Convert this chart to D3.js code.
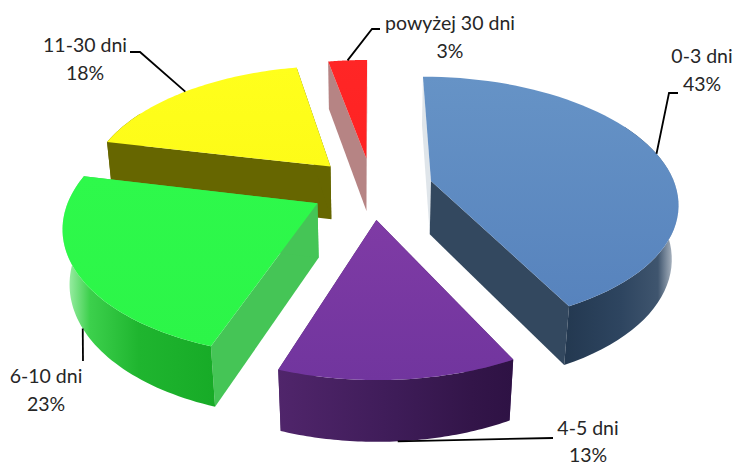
<!DOCTYPE html>
<html>
<head>
<meta charset="utf-8">
<script src="https://cdn.jsdelivr.net/npm/d3@7"></script>
<style>
    html, body { margin: 0; padding: 0; background: #fff; overflow: hidden; }
    text { font-family: Lato, "Open Sans", sans-serif; font-size: 19.5px; fill: #262626; text-anchor: middle; }
</style>
</head>
<body>
<div id="chart"></div>
<script>
// data
const categories = ['0-3 dni', '4-5 dni', '6-10 dni', '11-30 dni', 'powyżej 30 dni']
const shares = [42.5, 12.8, 23.2, 18.45, 3.05]

// styles, same order as categories
const topColours = [['#6693c6', '#5783bd'], ['#7f3ba5', '#71359e'], ['#2ef94b', '#2cf548'], ['#ffff1c', '#fdfb18'], ['#ff2626', '#ff2222']]
// rim stops: blue and green run from the front corner out to the far edge, purple left to right
const rimOffsets = [0, 0.5, 0.82, 1]
const rimColours = [
    ['#233850', '#2e4560', '#3f556e', '#d5dbe2'],
    ['#50256b', '#3e1c58', '#331549', '#2e1244'],
    ['#17ab27', '#1fb52f', '#3cd04c', '#b5f5bd'],
    ['#666600', '#666600', '#666600', '#666600'],
    ['#b98585', '#b98585', '#b98585', '#b98585']
]
const startWallColours = ['#dfe5ea', '#4a2366', '#45c556', '#666600', '#b68484']
const endWallColours = ['#33485f', '#4a2366', '#45c556', '#666600', '#b68484']

// dimensions and camera
const w = 735
const h = 467
const cx = 372
const cy = 188
const sx = 245
const sy = 123
const height3d = 55
const persp = 0.16
const perspZ = 0.022
const explode = 0.25

// label layout: text centre, first baseline, line gap and the elbow of each leader line
const labelX = [702, 588, 46, 85, 450]
const labelY = [63, 435, 383, 52, 30]
const labelGap = [28, 27, 28, 28, 28]
const elbows = [[[669, 93], [678, 93]], [[553, 438]], [[83, 361]], [[140, 52], [130, 52]], [[372, 29], [380, 29]]]
const drawOrder = [4, 3, 0, 2, 1]

const svg = d3.select('#chart')
    .append('svg')
    .attr('width', w)
    .attr('height', h)
    .style('display', 'block')

const defs = svg.append('defs')
const line = d3.line()

const arcs = d3.pie().sort(null).value(d => d)(shares)

// pie plane to screen, z is 0 on the top face and 1 on the bottom
const project = (u, v, z) => {
    const d = 1 + persp * v + perspZ * z
    return [cx + sx * u / d, cy + (height3d * z - sy * v) / d]
}

arcs.forEach((a, i) => {
    const mid = (a.startAngle + a.endAngle) / 2
    const ox = explode * Math.sin(mid)
    const oy = explode * Math.cos(mid)
    const apex = z => project(ox, oy, z)
    const rim = (t, z) => project(ox + Math.sin(t), oy + Math.cos(t), z)
    const steps = d3.range(0, 61).map(k => a.startAngle + (a.endAngle - a.startAngle) * k / 60)

    // the rim at the back is hidden under the top face, so only the front part is drawn
    const front = steps.filter(t => Math.cos(t) < 0.5)
    const rimTop = front.map(t => rim(t, 0))
    const rimBot = front.map(t => rim(t, 1)).reverse()
    a.mid = mid
    a.rim = rim
    a.topPts = [apex(0), ...steps.map(t => rim(t, 0))]
    a.rimPts = [...rimTop, ...rimBot]
    a.startWall = [apex(0), rim(a.startAngle, 0), rim(a.startAngle, 1), apex(1)]
    a.endWall = [apex(0), rim(a.endAngle, 0), rim(a.endAngle, 1), apex(1)]

    // top face gradient
    const ys = a.topPts.map(p => p[1])
    const topGrad = defs.append('linearGradient')
        .attr('id', 'top' + i)
        .attr('gradientUnits', 'userSpaceOnUse')
        .attr('x1', 0).attr('x2', 0)
        .attr('y1', d3.min(ys)).attr('y2', d3.max(ys))
    topGrad.append('stop').attr('offset', 0).attr('stop-color', topColours[i][0])
    topGrad.append('stop').attr('offset', 1).attr('stop-color', topColours[i][1])

    // rim gradient across the screen
    const xs = a.rimPts.map(p => p[0])
    const gradX = [
        [rim(a.endAngle, 1)[0], d3.max(xs)],
        [d3.min(xs), d3.max(xs)],
        [rim(a.startAngle, 1)[0], d3.min(xs)],
        [d3.min(xs), d3.max(xs)],
        [d3.min(xs), d3.max(xs)]
    ][i]
    const rimGrad = defs.append('linearGradient')
        .attr('id', 'rim' + i)
        .attr('gradientUnits', 'userSpaceOnUse')
        .attr('x1', gradX[0]).attr('x2', gradX[1])
        .attr('y1', 0).attr('y2', 0)
    rimOffsets.forEach((o, k) => {
        rimGrad.append('stop').attr('offset', o).attr('stop-color', rimColours[i][k])
    })
})

// slices, back to front
drawOrder.forEach(i => {
    const a = arcs[i]
    const g = svg.append('g').attr('class', 'slice')
    g.append('path').attr('d', line(a.startWall) + 'Z').attr('fill', startWallColours[i])
    g.append('path').attr('d', line(a.endWall) + 'Z').attr('fill', endWallColours[i])
    g.append('path').attr('d', line(a.rimPts) + 'Z').attr('fill', `url(#rim${i})`)
    g.append('path').attr('d', line(a.topPts) + 'Z').attr('fill', `url(#top${i})`)
})

// leader lines start on the rim at the middle of the slice
arcs.forEach((a, i) => {
    const front = Math.cos(a.mid) < -0.3
    svg.append('path')
        .attr('d', line([a.rim(a.mid, front ? 1 : 0), ...elbows[i]]))
        .attr('fill', 'none')
        .attr('stroke', '#000')
        .attr('stroke-width', 1.8)
})

// labels
categories.forEach((c, i) => {
    svg.append('text').attr('x', labelX[i]).attr('y', labelY[i]).text(c)
    svg.append('text').attr('x', labelX[i]).attr('y', labelY[i] + labelGap[i]).text(Math.round(shares[i]) + '%')
})
</script>
</body>
</html>
